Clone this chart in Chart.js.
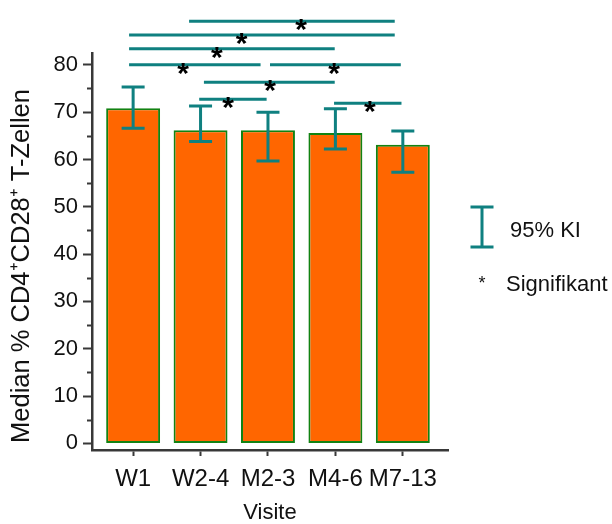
<!DOCTYPE html>
<html>
<head>
<meta charset="utf-8">
<script src="https://cdn.jsdelivr.net/npm/chart.js@4"></script>
<style>
  body { margin: 0; background: #fff; }
  #wrap { width: 612px; height: 524px; }
</style>
</head>
<body>
<div id="wrap"><canvas id="cd28Chart" width="612" height="524"></canvas></div>
<script>
// Visits and median values
const visits = ['W1', 'W2-4', 'M2-3', 'M4-6', 'M7-13'];
const medians = [70.8, 66.2, 66.2, 65.6, 63.1];
// 95% confidence intervals
const ciLow = [66.6, 63.8, 59.7, 62.2, 57.3];
const ciHigh = [75.3, 71.3, 70.0, 70.7, 66.0];
// Significance lines: start/end on the visit axis, height, star position
const sigStart = [1.83, 0.94, 0.94, 0.94, 3.03, 2.05, 1.98, 3.98];
const sigEnd = [4.88, 4.88, 3.99, 2.89, 4.97, 3.99, 2.98, 4.98];
const sigLevel = [89.2, 86.3, 83.4, 80.0, 80.0, 76.3, 72.7, 71.9];
const sigStar = [3.49, 2.61, 2.24, 1.74, 3.98, 3.03, 2.41, 4.51];
const yTicks = [0, 10, 20, 30, 40, 50, 60, 70, 80];
const yMinorTicks = [5, 15, 25, 35, 45, 55, 65, 75];

const TEAL = '#0f8080';
const AXIS = '#383838';
const FONT = "'Liberation Sans', Arial, sans-serif";

Chart.defaults.font.family = FONT;
Chart.defaults.color = '#111';

const annotations = {
    id: 'annotations',
    afterDraw(chart) {
        const { ctx, scales: { x, y } } = chart;
        ctx.save();

        // y axis title, rotated
        ctx.save();
        ctx.translate(22, 266);
        ctx.rotate(-Math.PI / 2);
        ctx.fillStyle = '#111';
        ctx.font = '25.5px ' + FONT;
        ctx.textAlign = 'center';
        ctx.textBaseline = 'middle';
        ctx.fillText('Median % CD4⁺CD28⁺ T-Zellen', 0, 0);
        ctx.restore();

        // minor ticks on the y axis
        ctx.strokeStyle = AXIS;
        ctx.lineWidth = 2;
        yMinorTicks.forEach(v => {
            const py = Math.round(y.getPixelForValue(v)) + 0.5;
            ctx.beginPath();
            ctx.moveTo(x.left - 5, py);
            ctx.lineTo(x.left, py);
            ctx.stroke();
        });

        // error bars
        ctx.strokeStyle = TEAL;
        ctx.lineWidth = 3;
        visits.forEach((v, i) => {
            const px = x.getPixelForValue(i + 1);
            const top = y.getPixelForValue(ciHigh[i]);
            const bot = y.getPixelForValue(ciLow[i]);
            ctx.beginPath();
            ctx.moveTo(px, top);
            ctx.lineTo(px, bot);
            ctx.moveTo(px - 11.5, top);
            ctx.lineTo(px + 11.5, top);
            ctx.moveTo(px - 11.5, bot);
            ctx.lineTo(px + 11.5, bot);
            ctx.stroke();
        });

        // significance lines with stars
        ctx.textAlign = 'center';
        ctx.textBaseline = 'alphabetic';
        sigLevel.forEach((lvl, i) => {
            const py = y.getPixelForValue(lvl);
            ctx.strokeStyle = TEAL;
            ctx.lineWidth = 3;
            ctx.beginPath();
            ctx.moveTo(x.getPixelForValue(sigStart[i]), py);
            ctx.lineTo(x.getPixelForValue(sigEnd[i]), py);
            ctx.stroke();
            ctx.fillStyle = '#000';
            ctx.font = 'bold 30px ' + FONT;
            ctx.fillText('*', x.getPixelForValue(sigStar[i]), py + 18);
        });

        // legend
        ctx.strokeStyle = TEAL;
        ctx.lineWidth = 3;
        ctx.beginPath();
        ctx.moveTo(482, 207);
        ctx.lineTo(482, 247);
        ctx.moveTo(470.5, 207);
        ctx.lineTo(493.5, 207);
        ctx.moveTo(470.5, 247);
        ctx.lineTo(493.5, 247);
        ctx.stroke();
        ctx.fillStyle = '#111';
        ctx.textAlign = 'left';
        ctx.textBaseline = 'middle';
        ctx.font = '22px ' + FONT;
        ctx.fillText('95% KI', 510, 231);
        ctx.fillText('Signifikant', 506, 285);
        ctx.font = '18px ' + FONT;
        ctx.textAlign = 'center';
        ctx.fillText('*', 482, 284);
        ctx.restore();
    }
};

new Chart(document.getElementById('cd28Chart'), {
    type: 'bar',
    data: {
        datasets: [{
            data: medians.map((m, i) => ({ x: i + 1, y: m })),
            backgroundColor: '#ff6600',
            borderColor: '#128212',
            borderWidth: 2,
            borderSkipped: false,
            categoryPercentage: 0.8,
            barPercentage: 1.0
        }]
    },
    options: {
        responsive: false,
        animation: false,
        layout: { padding: { left: 0, right: 164, top: 53, bottom: 0 } },
        plugins: { legend: { display: false }, tooltip: { enabled: false } },
        scales: {
            x: {
                type: 'linear',
                offset: false,
                min: 0.39,
                max: 5.67,
                afterBuildTicks: scale => { scale.ticks = visits.map((v, i) => ({ value: i + 1 })); },
                afterFit: scale => { scale.height = 74; },
                ticks: {
                    font: { size: 24 },
                    padding: 9,
                    maxRotation: 0,
                    autoSkip: false,
                    callback: (value) => visits[value - 1]
                },
                grid: { display: true, drawOnChartArea: false, offset: false, tickLength: 6, tickColor: AXIS, tickWidth: 2 },
                border: { display: true, color: AXIS, width: 2.5 },
                title: {
                    display: true,
                    text: 'Visite',
                    font: { size: 22, lineHeight: 1 },
                    padding: { top: 0, bottom: 0.5 }
                }
            },
            y: {
                min: -1.4,
                max: 82.5,
                afterBuildTicks: scale => { scale.ticks = yTicks.map(v => ({ value: v })); },
                afterFit: scale => { scale.width = 92; },
                ticks: { font: { size: 22 }, padding: 5 },
                grid: { display: true, drawOnChartArea: false, tickLength: 9, tickColor: AXIS, tickWidth: 2 },
                border: { display: true, color: AXIS, width: 2.5 }
            }
        }
    },
    plugins: [annotations]
});
</script>
</body>
</html>
